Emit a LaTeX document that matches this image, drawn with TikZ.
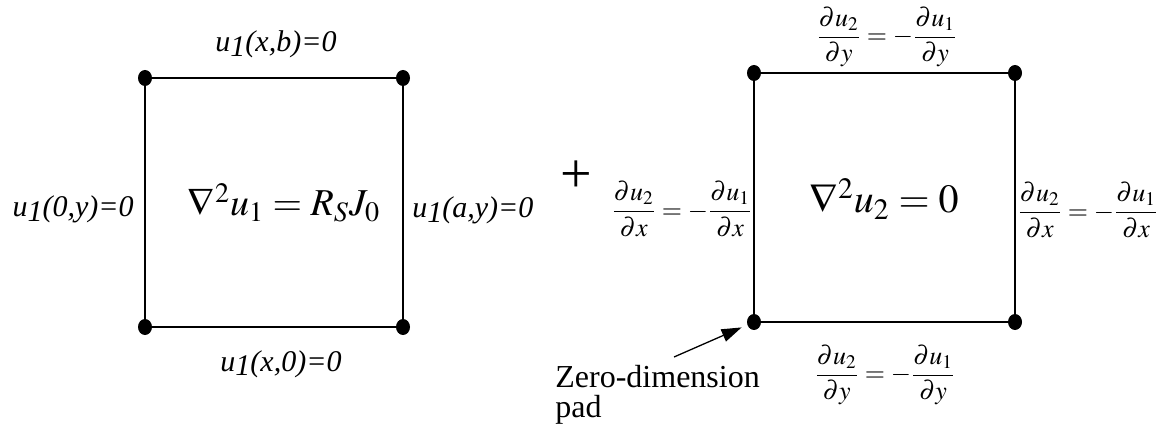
\documentclass[tikz,border=0pt]{standalone}
\usepackage{mathptmx}
\usepackage[no-math]{fontspec}
\setmainfont{Liberation Serif}
\usetikzlibrary{arrows.meta,positioning,calc,shapes.geometric}

\newcommand{\uonelab}[1]{\textit{u\raisebox{-0.3ex}{1}#1}}

\begin{document}
\begin{tikzpicture}[x=0.5pt, y=-0.5pt,
  dot/.style={ellipse, fill, inner sep=0pt, minimum width=7pt, minimum height=8pt},
  side/.style={line width=1.4pt},
  lab/.style={font=\fontsize{15}{15}\selectfont, inner sep=0pt},
  frac/.style={font=\fontsize{13}{13}\selectfont, inner sep=0pt},
  bigeq/.style={font=\fontsize{20}{20}\selectfont, inner sep=0pt},
  padarr/.style={-{Triangle[length=10pt,width=6.5pt]}, line width=0.65pt, shorten >=3pt}]
  \useasboundingbox (0,0) rectangle (1166,438);

  % left square: u_1 problem
  \node[dot] (a1) at (145,78) {};
  \node[dot] (b1) at (403,78) {};
  \node[dot] (c1) at (403,327) {};
  \node[dot] (d1) at (145,327) {};
  \draw[side] (a1) -- (b1) -- (c1) -- (d1) -- (a1);
  \node[lab, anchor=base] (top1) at (276,52) {\uonelab{(x,b)=0}};
  \node[lab, anchor=base east] (left1) at (134,217) {\uonelab{(0,y)=0}};
  \node[lab, anchor=base west] (right1) at (412,218) {\uonelab{(a,y)=0}};
  \node[lab, anchor=base] (bot1) at (281,371) {\uonelab{(x,0)=0}};
  \node[bigeq, font=\fontsize{19}{19}\selectfont, anchor=base] (eq1) at (284,216) {$\nabla^2 u_1 = R_S J_0$};

  \node[font=\fontsize{28}{28}\selectfont, inner sep=0pt] (plus) at (576,177) {+};

  % right square: u_2 problem
  \node[dot] (a2) at (754,73) {};
  \node[dot] (b2) at (1015,73) {};
  \node[dot] (c2) at (1015,322) {};
  \node[dot] (d2) at (754,322) {};
  \draw[side] (a2) -- (b2) -- (c2) -- (d2) -- (a2);
  \node[frac] (top2) at (887,37) {$\displaystyle\frac{\partial u_2}{\partial y}=-\frac{\partial u_1}{\partial y}$};
  \node[frac] (left2) at (682,209) {$\displaystyle\frac{\partial u_2}{\partial x}=-\frac{\partial u_1}{\partial x}$};
  \node[frac] (right2) at (1088,210) {$\displaystyle\frac{\partial u_2}{\partial x}=-\frac{\partial u_1}{\partial x}$};
  \node[frac] (bot2) at (885,375) {$\displaystyle\frac{\partial u_2}{\partial y}=-\frac{\partial u_1}{\partial y}$};
  \node[bigeq, anchor=base] (eq2) at (884,213) {$\nabla^2 u_2 = 0$};

  \node[lab, font=\fontsize{16}{15}\selectfont, anchor=base west, align=left] (pad) at (555,417) {Zero-dimension\\pad};
  \coordinate (padtail) at (674,357);
  \draw[padarr] (padtail) -- (d2);
\end{tikzpicture}
\end{document}
